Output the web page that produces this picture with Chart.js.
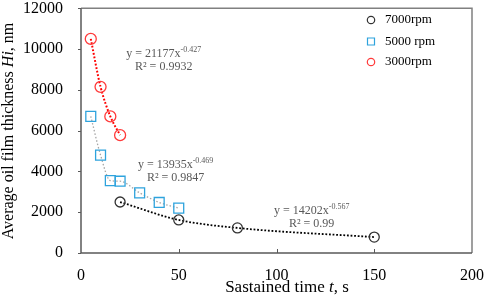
<!DOCTYPE html>
<html>
<head>
<meta charset="utf-8">
<script src="https://cdn.jsdelivr.net/npm/chart.js@4.4.1/dist/chart.umd.min.js"></script>
<style>
html,body{margin:0;padding:0;background:#fff;}
#wrap{width:484px;height:301px;position:relative;}
</style>
</head>
<body>
<div id="wrap"><canvas id="c" width="484" height="301"></canvas></div>
<script>
// ---- data ----
const seriesNames = ['7000rpm', '5000 rpm', '3000rpm'];
const time7000 = [20, 50, 80, 150];
const thick7000 = [2500, 1620, 1230, 780];
const time5000 = [5, 10, 15, 20, 30, 40, 50];
const thick5000 = [6700, 4800, 3550, 3520, 2950, 2480, 2200];
const time3000 = [5, 10, 15, 20];
const thick3000 = [10500, 8150, 6700, 5780];
const xTicks = [0, 50, 100, 150, 200];
const yTicks = [0, 2000, 4000, 6000, 8000, 10000, 12000];
// equation labels
const eqText = [
  ['y = 21177x', '-0.427', 'R\u00B2 = 0.9932'],
  ['y = 13935x', '-0.469', 'R\u00B2 = 0.9847'],
  ['y = 14202x', '-0.567', 'R\u00B2 = 0.99']
];
const eqAnchorX = [42.3, 48.4, 118];
const eqAnchorY = [9810, 4363, 2125];

const pts = (xs, ys) => xs.map((x, i) => ({x: x, y: ys[i]}));
const SERIF = "'Liberation Serif', 'DejaVu Serif', serif";

const colors = ['#333333', '#2EA3DD', '#FF3B3B'];
const trendColors = ['#000000', '#A6A6A6', '#FF0000'];
const styles = ['circle', 'rect', 'circle'];
const radii = [5, 7, 5.5];
const dataSets = [pts(time7000, thick7000), pts(time5000, thick5000), pts(time3000, thick3000)];

const datasets = [];
dataSets.forEach((d, i) => {
  datasets.push({
    label: seriesNames[i], data: d, showLine: false,
    pointStyle: styles[i], pointRadius: radii[i], pointBorderColor: colors[i],
    pointBackgroundColor: 'rgba(0,0,0,0)', pointBorderWidth: 1.3, order: 0, isMarker: true
  });
});
dataSets.forEach((d, i) => {
  datasets.push({
    label: seriesNames[i] + ' trend', data: d, showLine: true, pointRadius: 0,
    borderColor: trendColors[i], borderWidth: i === 1 ? 1.3 : (i === 2 ? 2 : 1.8),
    borderDash: i === 1 ? [1.5, 2] : [1.8, 1.8],
    cubicInterpolationMode: 'monotone', fill: false, order: 1
  });
});

function drawMixed(ctx, parts, x, y, align) {
  let w = 0;
  parts.forEach(p => { ctx.font = p.font; w += ctx.measureText(p.t).width; });
  let cx = align === 'center' ? x - w / 2 : x;
  ctx.textAlign = 'left';
  parts.forEach(p => {
    ctx.font = p.font;
    ctx.fillText(p.t, cx, y + (p.dy || 0));
    cx += ctx.measureText(p.t).width;
  });
}

const deco = {
  id: 'deco',
  afterDraw(chart) {
    const ctx = chart.ctx;
    const a = chart.chartArea;
    const xs = chart.scales.x, ys = chart.scales.y;
    ctx.save();
    // frame
    ctx.lineWidth = 1.5;
    ctx.strokeStyle = '#808080';
    ctx.beginPath();
    ctx.moveTo(a.left, a.top); ctx.lineTo(a.right, a.top); ctx.lineTo(a.right, a.bottom);
    ctx.stroke();
    ctx.strokeStyle = '#595959';
    ctx.beginPath();
    ctx.moveTo(a.left, a.top); ctx.lineTo(a.left, a.bottom); ctx.lineTo(a.right, a.bottom);
    ctx.stroke();
    // ticks
    ctx.lineWidth = 1;
    xTicks.forEach(v => {
      const px = Math.round(xs.getPixelForValue(v)) + 0.5;
      if (v === xTicks[0] || v === xTicks[xTicks.length - 1]) return;
      ctx.beginPath(); ctx.moveTo(px, a.bottom); ctx.lineTo(px, a.bottom - 4); ctx.stroke();
    });
    yTicks.forEach(v => {
      const py = Math.round(ys.getPixelForValue(v)) + 0.5;
      ctx.beginPath(); ctx.moveTo(a.left, py); ctx.lineTo(a.left - 3, py); ctx.stroke();
    });
    // axis titles
    ctx.fillStyle = '#000';
    ctx.textBaseline = 'alphabetic';
    drawMixed(ctx, [
      {t: 'Sastained time ', font: '17px ' + SERIF},
      {t: 't', font: 'italic 17px ' + SERIF},
      {t: ', s', font: '17px ' + SERIF}
    ], 287, 292, 'center');
    ctx.save();
    ctx.translate(13, 131);
    ctx.rotate(-Math.PI / 2);
    drawMixed(ctx, [
      {t: 'Average oil film thickness ', font: '16px ' + SERIF},
      {t: 'Hi', font: 'italic 16px ' + SERIF},
      {t: ', nm', font: '16px ' + SERIF}
    ], 0, 0, 'center');
    ctx.restore();
    // equations
    ctx.fillStyle = '#595959';
    eqText.forEach((e, i) => {
      const px = xs.getPixelForValue(eqAnchorX[i]);
      const py = ys.getPixelForValue(eqAnchorY[i]);
      drawMixed(ctx, [
        {t: e[0], font: '12px ' + SERIF},
        {t: e[1], font: '8px ' + SERIF, dy: -5}
      ], px, py + 4, 'center');
      drawMixed(ctx, [{t: e[2], font: '12px ' + SERIF}], px, py + 17, 'center');
    });
    // legend
    const legY = [20, 41.5, 62];
    chart.data.datasets.filter(d => d.isMarker).forEach((d, i) => {
      ctx.strokeStyle = d.pointBorderColor;
      ctx.lineWidth = 1.2;
      const mx = 371, my = legY[i];
      ctx.beginPath();
      if (d.pointStyle === 'rect') ctx.rect(mx - 3.5, my - 3.5, 7, 7);
      else ctx.arc(mx, my, 3.7, 0, Math.PI * 2);
      ctx.stroke();
      ctx.fillStyle = '#000';
      ctx.font = '13px ' + SERIF;
      ctx.textAlign = 'left';
      ctx.textBaseline = 'middle';
      ctx.fillText(d.label, 385, my);
    });
    ctx.restore();
  }
};

new Chart(document.getElementById('c'), {
  type: 'scatter',
  data: {datasets: datasets},
  options: {
    responsive: false, animation: false,
    layout: {padding: {top: 6, right: 12, left: 0, bottom: 0}},
    plugins: {legend: {display: false}, tooltip: {enabled: false}},
    scales: {
      x: {
        type: 'linear', min: 0, max: 200,
        afterBuildTicks: s => { s.ticks = xTicks.map(v => ({value: v})); },
        afterFit: s => { s.height = 48; s.paddingLeft = 0; s.paddingRight = 0; },
        grid: {display: false}, border: {display: false},
        ticks: {font: {family: SERIF, size: 16}, color: '#000', padding: 5, maxRotation: 0,
                callback: v => String(v)}
      },
      y: {
        type: 'linear', min: 0, max: 12000,
        afterBuildTicks: s => { s.ticks = yTicks.map(v => ({value: v})); },
        afterFit: s => { s.width = 81; s.paddingTop = 0; s.paddingBottom = 0; },
        grid: {display: false}, border: {display: false},
        ticks: {font: {family: SERIF, size: 16}, color: '#000', padding: 10,
                callback: v => String(v)}
      }
    }
  },
  plugins: [deco]
});
</script>
</body>
</html>
